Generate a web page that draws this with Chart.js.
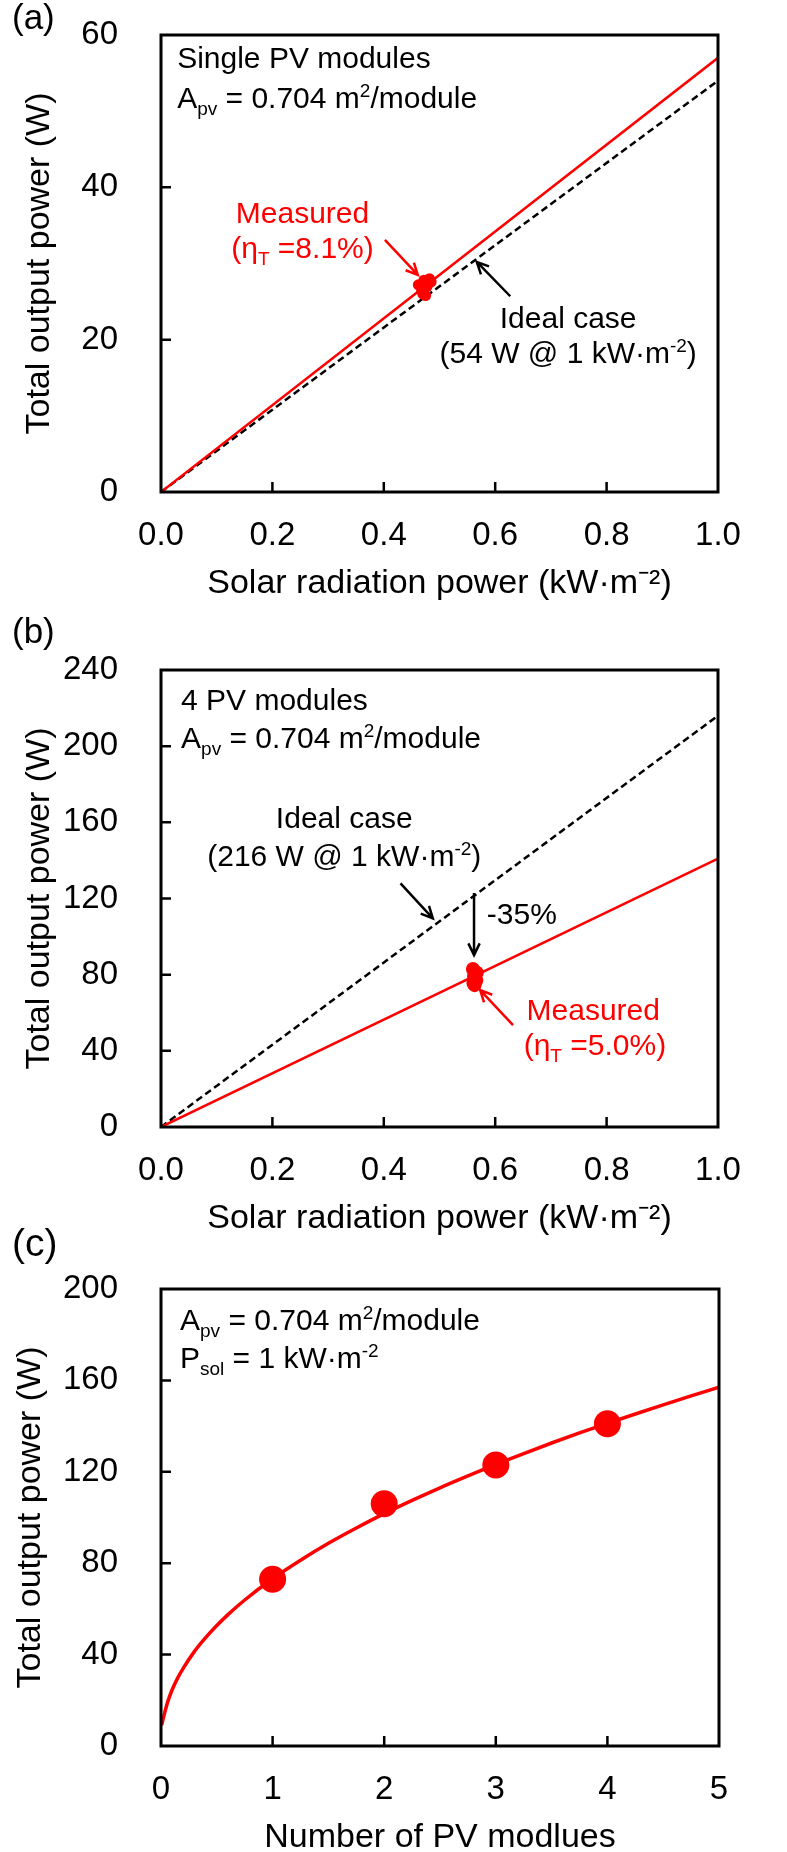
<!DOCTYPE html>
<html>
<head>
<meta charset="utf-8">
<script src="https://cdn.jsdelivr.net/npm/chart.js@4.4.1/dist/chart.umd.min.js"></script>
<style>
  html, body { margin: 0; padding: 0; background: #fff; overflow: hidden; }
  body { width: 787px; height: 1852px; position: relative; font-family: "Liberation Sans", Arial, sans-serif; }
  .panel { position: absolute; left: 0; width: 787px; height: 620px; }
  .tag { position: absolute; left: 12px; font-size: 35px; line-height: 35px; color: #000; }
</style>
</head>
<body>
<div class="panel" style="top:0"><canvas id="chartA" width="787" height="620"></canvas></div>
<div class="panel" style="top:635px"><canvas id="chartB" width="787" height="620"></canvas></div>
<div class="panel" style="top:1254px"><canvas id="chartC" width="787" height="620"></canvas></div>
<div class="tag" style="top:-1px">(a)</div>
<div class="tag" style="top:613px">(b)</div>
<div class="tag" style="top:1223px;font-size:39px;line-height:39px">(c)</div>

<script>
const FONT = '"Liberation Sans", Arial, sans-serif';
const RED = '#ff0000';

// (a) single PV module
const radA = [0, 1];
const idealA = [0, 54];
const measLineA = [0, 57];
const measAX = [0.462, 0.468, 0.472, 0.475, 0.478, 0.482, 0.470, 0.485];
const measAY = [27.2, 26.5, 27.8, 25.8, 27.0, 28.0, 26.0, 27.6];
const xTicksA = [0, 0.2, 0.4, 0.6, 0.8, 1.0];
const yTicksA = [0, 20, 40, 60];

// (b) 4 PV modules
const radB = [0, 1];
const idealB = [0, 216];
const measLineB = [0, 141];
const measBX = [0.560, 0.563, 0.566, 0.561, 0.567, 0.563, 0.562];
const measBY = [83, 80, 77, 75.5, 81, 74.5, 79];
const xTicksB = [0, 0.2, 0.4, 0.6, 0.8, 1.0];
const yTicksB = [0, 40, 80, 120, 160, 200, 240];

// (c) output vs number of modules
const curveX = [0.005, 0.03, 0.06, 0.1, 0.15, 0.2, 0.3, 0.4, 0.5, 0.6, 0.75, 1, 1.25, 1.5, 1.75, 2, 2.25, 2.5, 2.75, 3, 3.25, 3.5, 3.75, 4, 4.25, 4.5, 4.75, 5];
const curveY = [9, 14, 19.3, 24.6, 29.8, 34.1, 41.4, 47.4, 52.7, 57.5, 63.9, 73.2, 81.3, 88.7, 95.4, 101.7, 107.5, 113, 118.2, 123.2, 128, 132.6, 137, 141.2, 145.3, 149.3, 153.2, 157];
const modX = [1, 2, 3, 4];
const modY = [73, 106, 123, 141];
const xTicksC = [0, 1, 2, 3, 4, 5];
const yTicksC = [0, 40, 80, 120, 160, 200];

function pts(xs, ys) {
  return xs.map((x, i) => ({ x: x, y: ys[i] }));
}

function drawRich(ctx, parts, x, y, size, color, align) {
  const fontFor = k => (k ? Math.round(size * 0.64) : size) + 'px ' + FONT;
  let w = 0;
  parts.forEach(p => { ctx.font = fontFor(p[1]); w += ctx.measureText(p[0]).width; });
  let cx = align === 'center' ? x - w / 2 : x;
  ctx.fillStyle = color;
  ctx.textAlign = 'left';
  ctx.textBaseline = 'alphabetic';
  parts.forEach(p => {
    ctx.font = fontFor(p[1]);
    const dy = p[1] === 'sub' ? size * 0.22 : (p[1] === 'sup' ? -size * 0.36 : 0);
    ctx.fillText(p[0], cx, y + dy);
    cx += ctx.measureText(p[0]).width;
  });
}

function drawArrow(ctx, x1, y1, x2, y2, color) {
  const ang = Math.atan2(y2 - y1, x2 - x1);
  const len = 13, spread = 0.45;
  ctx.strokeStyle = color;
  ctx.lineWidth = 2.5;
  ctx.beginPath();
  ctx.moveTo(x1, y1);
  ctx.lineTo(x2, y2);
  ctx.moveTo(x2 - len * Math.cos(ang - spread), y2 - len * Math.sin(ang - spread));
  ctx.lineTo(x2, y2);
  ctx.lineTo(x2 - len * Math.cos(ang + spread), y2 - len * Math.sin(ang + spread));
  ctx.stroke();
}

// frame, inward ticks, text notes and arrows
const notesPlugin = {
  id: 'notes',
  afterDraw(chart, args, opts) {
    const ctx = chart.ctx;
    const a = chart.chartArea;
    const xs = chart.scales.x, ys = chart.scales.y;
    ctx.save();
    ctx.strokeStyle = '#000';
    ctx.lineWidth = 2.5;
    ctx.beginPath();
    xs.ticks.forEach(t => {
      if (t.value <= xs.min || t.value >= xs.max) return;
      const px = xs.getPixelForValue(t.value);
      ctx.moveTo(px, a.bottom);
      ctx.lineTo(px, a.bottom - 10);
    });
    ys.ticks.forEach(t => {
      if (t.value <= ys.min || t.value >= ys.max) return;
      const py = ys.getPixelForValue(t.value);
      ctx.moveTo(a.left, py);
      ctx.lineTo(a.left + 10, py);
    });
    ctx.stroke();
    ctx.lineWidth = 3;
    ctx.strokeRect(a.left, a.top, a.right - a.left, a.bottom - a.top);

    (opts.arrows || []).forEach(r => {
      drawArrow(ctx, xs.getPixelForValue(r.from[0]), ys.getPixelForValue(r.from[1]),
        xs.getPixelForValue(r.to[0]), ys.getPixelForValue(r.to[1]), r.color);
    });
    (opts.texts || []).forEach(t => {
      drawRich(ctx, t.parts, xs.getPixelForValue(t.x), ys.getPixelForValue(t.y),
        t.size || 30, t.color || '#000', t.align || 'left');
    });
    ctx.restore();
  }
};

function makeChart(id, cfg) {
  return new Chart(document.getElementById(id), {
    type: 'scatter',
    data: { datasets: cfg.datasets },
    plugins: [notesPlugin],
    options: {
      responsive: false,
      animation: false,
      layout: { padding: { top: 35, right: cfg.rightPad, left: 0, bottom: 0 } },
      plugins: {
        legend: { display: false },
        tooltip: { enabled: false },
        notes: { texts: cfg.texts, arrows: cfg.arrows }
      },
      scales: {
        x: {
          type: 'linear',
          min: cfg.xTicks[0],
          max: cfg.xTicks[cfg.xTicks.length - 1],
          grid: { display: false, drawTicks: false },
          border: { display: false },
          ticks: {
            stepSize: cfg.xTicks[1] - cfg.xTicks[0],
            color: '#000',
            font: { size: 33, family: FONT },
            padding: 24,
            maxRotation: 0,
            autoSkip: false,
            callback: v => v.toFixed(cfg.xDigits)
          },
          title: {
            display: true, text: cfg.xTitle, color: '#000',
            font: { size: 34, family: FONT },
            padding: { top: 0, bottom: cfg.xTitlePad }
          },
          afterFit: s => { s.height = 128; s.paddingLeft = 0; s.paddingRight = 0; }
        },
        y: {
          type: 'linear',
          min: cfg.yTicks[0],
          max: cfg.yTicks[cfg.yTicks.length - 1],
          grid: { display: false, drawTicks: false },
          border: { display: false },
          ticks: {
            stepSize: cfg.yTicks[1] - cfg.yTicks[0],
            color: '#000',
            font: { size: 33, family: FONT },
            padding: 43,
            autoSkip: false
          },
          title: {
            display: true, text: 'Total output power (W)', color: '#000',
            font: { size: 34, family: FONT },
            padding: { top: cfg.yTitlePad, bottom: 0 }
          },
          afterFit: s => { s.width = 161; s.paddingTop = 0; s.paddingBottom = 0; }
        }
      }
    }
  });
}

const APV = [['A', ''], ['pv', 'sub'], [' = 0.704 m', ''], ['2', 'sup'], ['/module', '']];

makeChart('chartA', {
  xTicks: xTicksA, yTicks: yTicksA, xDigits: 1, rightPad: 69,
  xTitle: 'Solar radiation power (kW\u00b7m\u207b\u00b2)', xTitlePad: 16, yTitlePad: 19,
  datasets: [
    { data: pts(measAX, measAY), pointRadius: 5.5, pointBackgroundColor: RED, pointBorderWidth: 0, showLine: false },
    { data: pts(radA, measLineA), showLine: true, borderColor: RED, borderWidth: 2.5, pointRadius: 0 },
    { data: pts(radA, idealA), showLine: true, borderColor: '#000', borderWidth: 2.5, borderDash: [7, 4], pointRadius: 0 }
  ],
  texts: [
    { x: 0.029, y: 55.7, parts: [['Single PV modules', '']] },
    { x: 0.029, y: 50.4, parts: APV },
    { x: 0.254, y: 35.3, align: 'center', color: RED, parts: [['Measured', '']] },
    { x: 0.254, y: 30.7, align: 'center', color: RED, parts: [['(\u03b7', ''], ['T', 'sub'], [' =8.1%)', '']] },
    { x: 0.731, y: 21.5, align: 'center', parts: [['Ideal case', '']] },
    { x: 0.731, y: 16.9, align: 'center', parts: [['(54 W @ 1 kW\u00b7m', ''], ['-2', 'sup'], [')', '']] }
  ],
  arrows: [
    { from: [0.402, 33.1], to: [0.461, 28.5], color: RED },
    { from: [0.627, 25.7], to: [0.567, 30.2], color: '#000' }
  ]
});

makeChart('chartB', {
  xTicks: xTicksB, yTicks: yTicksB, xDigits: 1, rightPad: 69,
  xTitle: 'Solar radiation power (kW\u00b7m\u207b\u00b2)', xTitlePad: 16, yTitlePad: 19,
  datasets: [
    { data: pts(measBX, measBY), pointRadius: 7, pointBackgroundColor: RED, pointBorderWidth: 0, showLine: false },
    { data: pts(radB, measLineB), showLine: true, borderColor: RED, borderWidth: 2.5, pointRadius: 0 },
    { data: pts(radB, idealB), showLine: true, borderColor: '#000', borderWidth: 2.5, borderDash: [7, 4], pointRadius: 0 }
  ],
  texts: [
    { x: 0.036, y: 219, parts: [['4 PV modules', '']] },
    { x: 0.036, y: 199, parts: APV },
    { x: 0.329, y: 156.8, align: 'center', parts: [['Ideal case', '']] },
    { x: 0.329, y: 137.3, align: 'center', parts: [['(216 W @ 1 kW\u00b7m', ''], ['-2', 'sup'], [')', '']] },
    { x: 0.585, y: 106.6, parts: [['-35%', '']] },
    { x: 0.776, y: 56.2, align: 'center', color: RED, parts: [['Measured', '']] },
    { x: 0.779, y: 37.8, align: 'center', color: RED, parts: [['(\u03b7', ''], ['T', 'sub'], [' =5.0%)', '']] }
  ],
  arrows: [
    { from: [0.43, 127.9], to: [0.488, 109.6], color: '#000' },
    { from: [0.562, 122.9], to: [0.562, 90.3], color: '#000' },
    { from: [0.632, 53.5], to: [0.573, 71.9], color: RED }
  ]
});

makeChart('chartC', {
  xTicks: xTicksC, yTicks: yTicksC, xDigits: 0, rightPad: 68,
  xTitle: 'Number of PV modlues', xTitlePad: 16, yTitlePad: 10,
  datasets: [
    { data: pts(modX, modY), pointRadius: 13.5, pointBackgroundColor: RED, pointBorderWidth: 0, showLine: false },
    { data: pts(curveX, curveY), showLine: true, borderColor: RED, borderWidth: 3.5, pointRadius: 0, cubicInterpolationMode: 'monotone' }
  ],
  texts: [
    { x: 0.17, y: 182, parts: APV },
    { x: 0.17, y: 165.4, parts: [['P', ''], ['sol', 'sub'], [' = 1 kW\u00b7m', ''], ['-2', 'sup']] }
  ],
  arrows: []
});
</script>
</body>
</html>
